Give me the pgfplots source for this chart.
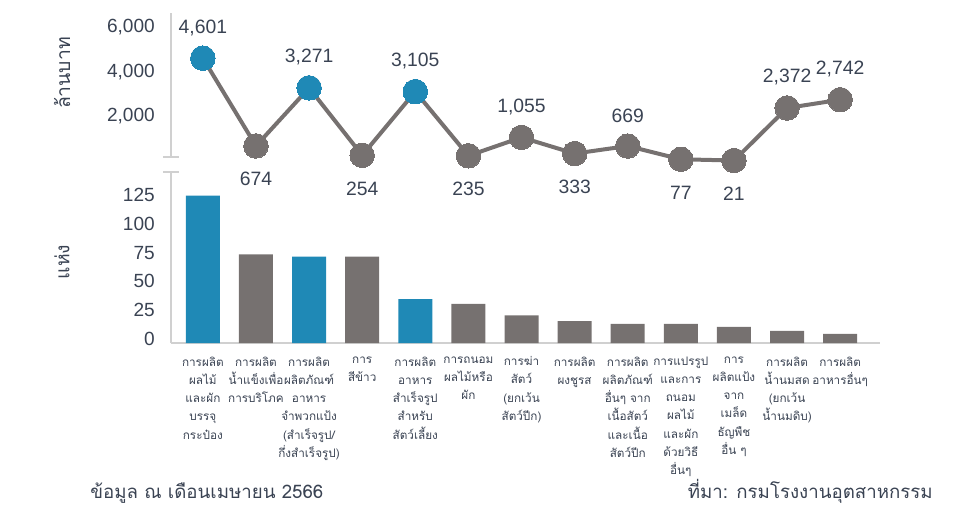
\documentclass[border=0pt]{standalone}
\usepackage{pgfplots}
\pgfplotsset{compat=1.18}
\usepackage{fontspec}
\setmainfont{Liberation Sans}
\newfontfamily\thaifont[Script=Thai]{Loma}
\definecolor{cblue}{HTML}{1F89B6}
\definecolor{cgray}{HTML}{767170}
\definecolor{ctext}{HTML}{3A4353}
\definecolor{caxis}{HTML}{D0D0D0}
\begin{document}
\begin{tikzpicture}
\path[use as bounding box] (0pt,0pt) rectangle (729.75pt,380.25pt);
% bottom: number of factories
\begin{axis}[
  name=bot, anchor=south west, at={(128.25pt,123pt)},
  scale only axis, width=531.75pt, height=128.25pt,
  xmin=-0.6, xmax=12.75, ymin=0, ymax=148.4,
  axis x line=bottom, axis y line=left,
  axis line style={draw=caxis, line width=1.6pt, -},
  major tick length=0pt,
  ytick={0,25,50,75,100,125},
  yticklabel style={font=\fontsize{14.3}{16}\selectfont, text=ctext, inner sep=0pt, xshift=-12pt, yshift=3pt},
  /pgf/number format/assume math mode=true,
  xtick={0,...,12},
  xticklabels={
    {การผลิต\\ผลไม้\\และผัก\\บรรจุ\\กระป๋อง},
    {การผลิต\\น้ำแข็งเพื่อ\\การบริโภค},
    {การผลิต\\ผลิตภัณฑ์\\อาหาร\\จำพวกแป้ง\\(สำเร็จรูป/\\กึ่งสำเร็จรูป)},
    {การ\\สีข้าว},
    {การผลิต\\อาหาร\\สำเร็จรูป\\สำหรับ\\สัตว์เลี้ยง},
    {การถนอม\\ผลไม้หรือ\\ผัก},
    {การฆ่า\\สัตว์\\(ยกเว้น\\สัตว์ปีก)},
    {การผลิต\\ผงชูรส},
    {การผลิต\\ผลิตภัณฑ์\\อื่นๆ จาก\\เนื้อสัตว์\\และเนื้อ\\สัตว์ปีก},
    {การแปรรูป\\และการ\\ถนอม\\ผลไม้\\และผัก\\ด้วยวิธี\\อื่นๆ},
    {การ\\ผลิตแป้ง\\จาก\\เมล็ด\\ธัญพืช\\อื่น ๆ},
    {การผลิต\\น้ำนมสด\\(ยกเว้น\\น้ำนมดิบ)},
    {การผลิต\\อาหารอื่นๆ}},
  xticklabel style={font=\thaifont\fontsize{8.8}{13.7}\selectfont, text=ctext, align=center, anchor=north, inner sep=0pt, yshift=-10pt},
  ylabel={\thaifont แห่ง},
  ylabel style={at={(axis description cs:-0.1537,0.474)}, anchor=center, font=\fontsize{14.5}{16}\selectfont, text=ctext},
  ybar, bar width=25.5pt,
]
\addplot[fill=cblue, draw=none, bar shift=0pt] coordinates {(0,128) (2,75) (4,38)};
\addplot[fill=cgray, draw=none, bar shift=0pt] coordinates {(1,77) (3,75) (5,34) (6,24) (7,19) (8,16.5) (9,16.5) (10,14) (11,10.5) (12,8)};
\end{axis}
% top: value in million baht
\begin{axis}[
  name=top, anchor=south west, at={(128.25pt,262.5pt)},
  scale only axis, width=531.75pt, height=108pt,
  xmin=-0.6, xmax=12.75, ymin=179, ymax=6622,
  axis x line=none, axis y line=left,
  axis line style={draw=caxis, line width=1.6pt, -},
  major tick length=0pt,
  ytick={2000,4000,6000},
  yticklabel style={font=\fontsize{14.3}{16}\selectfont, text=ctext, inner sep=0pt, xshift=-12pt},
  /pgf/number format/.cd, 1000 sep={,}, assume math mode=true, /pgfplots/.cd,
  ylabel={\thaifont ล้านบาท},
  ylabel style={at={(axis description cs:-0.1537,0.583)}, anchor=center, font=\fontsize{14.5}{16}\selectfont, text=ctext},
  clip=false,
]
\addplot[cgray, line width=3pt, mark=*, mark size=9.2pt, mark options={fill=cgray, draw=cgray, line width=0pt}] coordinates {
  (0,4601) (1,674) (2,3271) (3,254) (4,3105) (5,235) (6,1055) (7,333) (8,669) (9,77) (10,21) (11,2372) (12,2742)};
\addplot[cblue, only marks, mark=*, mark size=9.2pt, mark options={fill=cblue, draw=cblue, line width=0pt}] coordinates {
  (0,4601) (2,3271) (4,3105)};
% labels above
\addplot[only marks, mark=none, nodes near coords, every node near coord/.append style={anchor=center, yshift=23pt, font=\fontsize{14.5}{16}\selectfont, text=ctext, inner sep=0pt}] coordinates {
  (0,4601) (2,3271) (4,3105) (6,1055) (8,669) (11,2372) (12,2742)};
% labels below
\addplot[only marks, mark=none, nodes near coords, every node near coord/.append style={anchor=center, yshift=-25pt, font=\fontsize{14.5}{16}\selectfont, text=ctext, inner sep=0pt}] coordinates {
  (1,674) (3,254) (5,235) (7,333) (9,77) (10,21)};
\end{axis}
% axis break caps
\draw[caxis, line width=1.6pt] (122.25pt,262.5pt) -- (134.25pt,262.5pt);
\draw[caxis, line width=1.6pt] (122.25pt,251.25pt) -- (134.25pt,251.25pt);
% footer
\node[anchor=base west, text=ctext, font=\thaifont\fontsize{14}{15}\selectfont, inner sep=0pt] at (67.5pt,6.5pt) {ข้อมูล ณ เดือนเมษายน 2566};
\node[anchor=base east, text=ctext, font=\thaifont\fontsize{14}{15}\selectfont, inner sep=0pt] at (699.75pt,6.5pt) {ที่มา: กรมโรงงานอุตสาหกรรม};
\end{tikzpicture}
\end{document}
